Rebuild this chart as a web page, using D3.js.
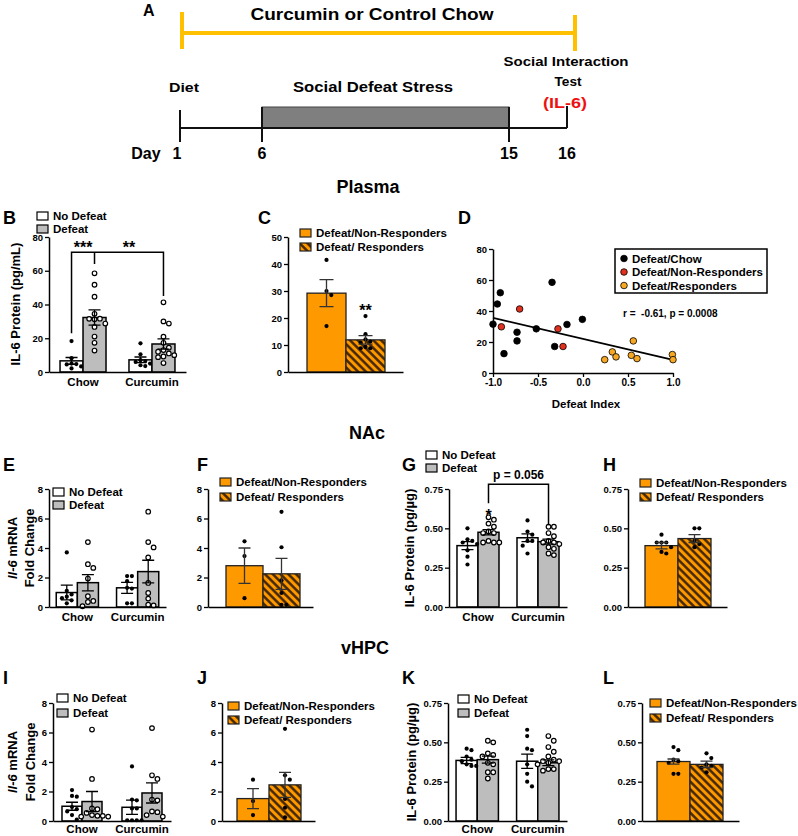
<!DOCTYPE html>
<html><head><meta charset="utf-8">
<script src="https://cdn.jsdelivr.net/npm/d3@7"></script>
<style>body{margin:0;background:#fff}</style>
</head><body><script>
const FONT = "'Liberation Sans', Arial, Helvetica, sans-serif";
const GRAY = '#bdbdbd', ORANGE = '#ff9900', YELLOW = '#ffc000';

// ---------------- DATA ----------------
const timelineDays = [1, 6, 15, 16];
const groupCats = ["Chow", "Curcumin"];
const condLabels = ["No Defeat", "Defeat"];
const respLabels = ["Defeat/Non-Responders", "Defeat/ Responders"];
const scatterLabels = ["Defeat/Chow", "Defeat/Non-Responders", "Defeat/Responders"];

// order of 4-bar panels: Chow-NoDefeat, Chow-Defeat, Curcumin-NoDefeat, Curcumin-Defeat
const B_mean = [6.6, 32.3, 7.2, 16.6];
const B_sem = [2.0, 4.5, 1.7, 3.0];
const B_pts = [[18.3, 8.2, 5.0, 4.7, 4.5, 3.3, 2.1],
  [58.5, 51.7, 44.6, 34.5, 31.6, 31.5, 31.2, 28.7, 26.7, 21.0, 17.3, 12.7],
  [17.0, 10.5, 7.0, 6.5, 6.0, 5.0, 4.0, 3.5],
  [41.3, 30.0, 28.7, 20.9, 17.3, 14.4, 13.0, 12.0, 11.0, 10.0, 9.2, 8.8, 5.3]];
const B_bracket = 71, B_legs = [23, 64, 45], B_stars = ["***", "**"];

const C_mean = [29.2, 11.9];
const C_sem = [5.0, 1.6];
const C_pts = [[41.5, 30.0, 28.5, 17.0], [20.7, 14.0, 12.1, 11.3, 10.9, 9.3, 8.8, 8.8]];

const D_chowX = [-1.0, -0.952, -0.919, -0.878, -0.733, -0.733, -0.519, -0.344, -0.315, -0.178, -0.007];
const D_chowY = [31.5, 44.5, 51.8, 12.5, 26.3, 20.7, 28.5, 58.5, 17.1, 31.3, 34.6];
const D_nrX = [-0.907, -0.704, -0.278, -0.222];
const D_nrY = [29.8, 41.3, 28.5, 17.1];
const D_rX = [0.241, 0.326, 0.367, 0.537, 0.559, 0.6, 0.993, 1.0];
const D_rY = [8.6, 13.6, 10.4, 11.4, 20.7, 9.3, 11.9, 8.6];
const D_fitX = [-1, 1], D_fitY = [35.6, 8.4];
const D_stat = "r =  -0.61, p = 0.0008";

const E_mean = [0.98, 1.65, 1.3, 2.4];
const E_sem = [0.5, 0.55, 0.37, 0.77];
const E_pts = [[3.7, 1.1, 0.85, 0.7, 0.6, 0.45, 0.25],
  [4.4, 2.9, 2.65, 1.93, 0.73, 0.41, 0.34, 0.05],
  [2.1, 2.1, 1.75, 1.3, 1.25, 0.25, 0.25],
  [6.46, 4.4, 4.04, 3.36, 1.63, 0.95, 0.57, 0.16, 0.11]];

const F_mean = [2.8, 2.25];
const F_sem = [1.2, 1.05];
const F_pts = [[4.45, 3.45, 0.6], [6.45, 4.05, 1.8, 0.95, 0.15, 0.15]];

const G_mean = [0.39, 0.475, 0.44, 0.415];
const G_sem = [0.025, 0.017, 0.025, 0.016];
const G_pts = [[0.50, 0.43, 0.42, 0.41, 0.40, 0.36, 0.32, 0.27],
  [0.57, 0.555, 0.53, 0.51, 0.48, 0.47, 0.47, 0.42, 0.41, 0.41, 0.41],
  [0.55, 0.48, 0.46, 0.42, 0.42, 0.39, 0.34],
  [0.51, 0.51, 0.47, 0.45, 0.42, 0.41, 0.41, 0.40, 0.38, 0.37, 0.34, 0.33]];
const G_bracket = 0.78, G_legs = [0.66, 0.52], G_pLabel = "p = 0.056", G_star = 0.60;

const H_mean = [0.39, 0.435];
const H_sem = [0.02, 0.025];
const H_pts = [[0.46, 0.41, 0.41, 0.41, 0.38, 0.35, 0.34], [0.50, 0.50, 0.42, 0.40, 0.38]];

const I_mean = [1.0, 1.32, 0.93, 1.9];
const I_sem = [0.27, 0.68, 0.48, 0.68];
const I_pts = [[2.1, 1.7, 1.65, 0.95, 0.8, 0.65, 0.4, 0.1],
  [6.2, 2.85, 0.85, 0.8, 0.55, 0.4, 0.35, 0.35, 0.3, 0.3],
  [3.7, 1.45, 1.4, 0.85, 0.85, 0.05, 0.05, 0.05, 0.05],
  [6.3, 3.1, 2.85, 1.45, 1.4, 0.65, 0.6, 0.4, 0.3]];

const J_mean = [1.52, 2.45];
const J_sem = [0.68, 0.85];
const J_pts = [[2.8, 1.35, 0.4], [6.25, 3.1, 2.8, 1.5, 0.9, 0.25]];

const K_mean = [0.385, 0.39, 0.38, 0.37];
const K_sem = [0.02, 0.022, 0.045, 0.018];
const K_pts = [[0.46, 0.45, 0.41, 0.39, 0.38, 0.36, 0.35, 0.35],
  [0.51, 0.50, 0.43, 0.42, 0.41, 0.37, 0.36, 0.31, 0.31, 0.27],
  [0.58, 0.54, 0.46, 0.45, 0.36, 0.30, 0.25, 0.22],
  [0.54, 0.51, 0.47, 0.44, 0.41, 0.39, 0.38, 0.38, 0.37, 0.36, 0.33, 0.33, 0.32]];

const L_mean = [0.378, 0.36];
const L_sem = [0.016, 0.02];
const L_pts = [[0.47, 0.45, 0.39, 0.38, 0.37, 0.30, 0.30], [0.43, 0.40, 0.36, 0.35, 0.34, 0.31]];

// ---------------- DRAWING ----------------
const svg = d3.select('body').append('svg').attr('width', 798).attr('height', 836)
  .attr('font-family', FONT);
const defs = svg.append('defs');
const pat = defs.append('pattern').attr('id', 'hatch').attr('patternUnits', 'userSpaceOnUse')
  .attr('width', 5.5).attr('height', 5.5).attr('patternTransform', 'rotate(-45)');
pat.append('rect').attr('width', 5.5).attr('height', 5.5).attr('fill', ORANGE);
pat.append('line').attr('x1', 1.4).attr('x2', 1.4).attr('y1', -1).attr('y2', 7)
  .attr('stroke', '#3d2300').attr('stroke-width', 2.4);

function txt(g, x, y, s, size, o = {}) {
  const t = g.append('text').attr('x', x).attr('y', y).text(s)
    .attr('font-family', FONT).attr('font-size', size)
    .attr('font-weight', o.weight || 'bold').attr('text-anchor', o.anchor || 'start')
    .attr('fill', o.fill || '#000');
  if (o.len) t.attr('textLength', o.len).attr('lengthAdjust', 'spacingAndGlyphs');
  if (o.pre) t.style('white-space', 'pre');
  return t;
}
function styleAxis(sel, fs) {
  sel.select('.domain').attr('stroke', '#000').attr('stroke-width', 1.5);
  sel.selectAll('.tick line').attr('stroke', '#000').attr('stroke-width', 1.3);
  sel.selectAll('.tick text').attr('font-family', FONT).attr('font-weight', 'bold')
    .attr('font-size', fs).attr('fill', '#000');
}
function yAxis(g, y, x0, ticks, fmt) {
  g.append('g').attr('transform', `translate(${x0},0)`)
    .call(d3.axisLeft(y).tickValues(ticks).tickFormat(fmt).tickSize(4).tickSizeOuter(0).tickPadding(2))
    .call(s => styleAxis(s, 9.5));
}
function swarm(vals, y, cx, r) {
  const step = 2 * r + 0.4, placed = [];
  vals.forEach(v => {
    const py = y(v);
    for (let k = 0; k < 40; k++) {
      const off = k === 0 ? 0 : (k % 2 ? 1 : -1) * Math.ceil(k / 2) * step;
      const px = cx + off;
      if (placed.every(p => Math.hypot(p.x - px, p.y - py) >= step - 0.01)) { placed.push({ x: px, y: py }); break; }
    }
  });
  return placed;
}
function dots(g, cx, y, pts, isOpen) {
  pts.forEach((arr, i) => {
    const open = isOpen(i), r = open ? 2.3 : 2.1;
    g.selectAll(null).data(swarm(arr, y, cx(i), open ? 2.5 : 2.2)).join('circle')
      .attr('cx', d => d.x).attr('cy', d => d.y).attr('r', r)
      .attr('fill', open ? '#fff' : '#000').attr('stroke', '#000').attr('stroke-width', open ? 1.2 : 0);
  });
}
function errBars(g, cx, y, mean, sem, capW, color) {
  g.selectAll(null).data(mean).join('path')
    .attr('d', (m, i) => {
      const x = cx(i), t = y(m + sem[i]), b = y(Math.max(0, m - sem[i]));
      return `M${x},${t}V${b}M${x - capW / 2},${t}H${x + capW / 2}M${x - capW / 2},${b}H${x + capW / 2}`;
    })
    .attr('stroke', color).attr('stroke-width', 1.3).attr('fill', 'none');
}
function fourBar(c, mean, sem, pts) {
  const g = svg.append('g');
  const y = d3.scaleLinear().domain([0, c.max]).range([c.yBot, c.yTop]);
  const x = d3.scaleBand().domain(groupCats).range([c.x0, c.x1]).paddingInner(c.pi).paddingOuter(c.po);
  const bw = x.bandwidth() / 2;
  const bx = i => x(groupCats[Math.floor(i / 2)]) + (i % 2) * bw;
  const cx = i => bx(i) + bw / 2;
  g.selectAll(null).data(mean).join('rect')
    .attr('x', (d, i) => bx(i)).attr('width', bw).attr('y', d => y(d)).attr('height', d => c.yBot - y(d))
    .attr('fill', (d, i) => i % 2 ? GRAY : '#fff').attr('stroke', '#000').attr('stroke-width', 1.5);
  dots(g, cx, y, pts, i => i % 2 === 1);
  errBars(g, cx, y, mean, sem, 12, '#000');
  yAxis(g, y, c.x0, c.ticks, c.fmt);
  g.append('g').attr('transform', `translate(0,${c.yBot})`)
    .call(d3.axisBottom(x).tickSize(0).tickSizeOuter(0).tickPadding(c.lp))
    .call(s => styleAxis(s, 11.5));
  return { g, y, cx };
}
function twoBar(c, mean, sem, pts) {
  const g = svg.append('g');
  const y = d3.scaleLinear().domain([0, c.max]).range([c.yBot, c.yTop]);
  const x = d3.scaleBand().domain(respLabels).range([c.b0, c.b1]);
  const cx = i => x(respLabels[i]) + x.bandwidth() / 2;
  g.selectAll(null).data(mean).join('rect')
    .attr('x', (d, i) => x(respLabels[i])).attr('width', x.bandwidth())
    .attr('y', d => y(d)).attr('height', d => c.yBot - y(d))
    .attr('fill', (d, i) => i ? 'url(#hatch)' : ORANGE).attr('stroke', '#222').attr('stroke-width', 1.3);
  dots(g, cx, y, pts, () => false);
  errBars(g, cx, y, mean, sem, c.cap, '#333');
  yAxis(g, y, c.x0, c.ticks, c.fmt);
  g.append('g').attr('transform', `translate(0,${c.yBot})`)
    .call(d3.axisBottom(d3.scaleLinear().range([c.x0, c.x1])).tickValues([]).tickSizeOuter(0))
    .call(s => styleAxis(s, 10));
  return { g, y, cx };
}
function condLegend(x, rows) {
  condLabels.forEach((t, i) => {
    svg.append('rect').attr('x', x).attr('y', rows[i] - 4).attr('width', 11).attr('height', 8)
      .attr('fill', i ? GRAY : '#fff').attr('stroke', '#000').attr('stroke-width', 1.2);
    txt(svg, x + 16, rows[i] + 4, t, 11.5);
  });
}
function respLegend(x, rows) {
  respLabels.forEach((t, i) => {
    svg.append('rect').attr('x', x).attr('y', rows[i] - 4).attr('width', 11).attr('height', 8)
      .attr('fill', i ? 'url(#hatch)' : ORANGE).attr('stroke', '#222').attr('stroke-width', 1.2);
    txt(svg, x + 16, rows[i] + 4, t, 11.5);
  });
}
function yLabel(x, y, lines) {
  const t = svg.append('text').attr('transform', `translate(${x},${y}) rotate(-90)`)
    .attr('text-anchor', 'middle').attr('font-family', FONT).attr('font-weight', 'bold').attr('font-size', 13);
  lines.forEach(([s, it]) => t.append('tspan').text(s).attr('font-style', it ? 'italic' : 'normal'));
}
const fmtInt = d3.format('d'), fmt2 = d3.format('.2f');

// ---------- Panel A ----------
const gA = svg.append('g');
const dayX = d3.scaleLinear().domain(timelineDays).range([180, 262, 509, 567]);
txt(gA, 143, 16, 'A', 16);
txt(gA, 372, 20, 'Curcumin or Control Chow', 17, { anchor: 'middle', len: 243 });
gA.append('path').attr('d', `M${dayX(1) + 2},33H${dayX(16) + 8}M${dayX(1) + 2},12V49M${dayX(16) + 8},15V51`)
  .attr('stroke', YELLOW).attr('stroke-width', 4).attr('fill', 'none');
txt(gA, 566, 66, 'Social Interaction', 13, { anchor: 'middle', len: 125 });
txt(gA, 568, 86, 'Test', 13, { anchor: 'middle', len: 27 });
txt(gA, 565, 108, '(IL-6)', 14, { anchor: 'middle', len: 44, fill: '#ee1111' });
txt(gA, 184, 92, 'Diet', 13.5, { anchor: 'middle', len: 30 });
txt(gA, 373, 92, 'Social Defeat Stress', 14, { anchor: 'middle', len: 160 });
gA.append('rect').attr('x', dayX(6)).attr('y', 107).attr('width', dayX(15) - dayX(6)).attr('height', 21)
  .attr('fill', '#7f7f7f').attr('stroke', '#444').attr('stroke-width', 1);
gA.append('line').attr('x1', dayX(1)).attr('x2', dayX(16)).attr('y1', 128).attr('y2', 128)
  .attr('stroke', '#111').attr('stroke-width', 2);
const tickTop = [110, 107, 107, 106], tickBot = [142, 142, 142, 128];
gA.selectAll(null).data(timelineDays).join('line')
  .attr('x1', d => dayX(d)).attr('x2', d => dayX(d)).attr('y1', (d, i) => tickTop[i]).attr('y2', (d, i) => tickBot[i])
  .attr('stroke', '#111').attr('stroke-width', 2);
txt(gA, 146, 159, 'Day', 16, { anchor: 'middle' });
gA.selectAll(null).data(timelineDays).join('text')
  .attr('x', (d, i) => dayX(d) - (i === 0 ? 3 : 0)).attr('y', 159).text(d => d)
  .attr('text-anchor', 'middle').attr('font-family', FONT).attr('font-weight', 'bold').attr('font-size', 16);
txt(svg, 368, 193, 'Plasma', 18, { anchor: 'middle' });
txt(svg, 367, 439, 'NAc', 18, { anchor: 'middle' });
txt(svg, 365, 654, 'vHPC', 18, { anchor: 'middle' });

// panel letters
[['B', 3, 224], ['C', 258, 224], ['D', 458, 224], ['E', 3, 471], ['F', 197, 471], ['G', 402, 471], ['H', 603, 471],
 ['I', 3, 684], ['J', 197, 684], ['K', 402, 684], ['L', 603, 684]].forEach(([s, x, y]) => txt(svg, x, y, s, 18));

// ---------- Panel B ----------
const pB = fourBar({ x0: 49, x1: 186, yTop: 237, yBot: 372, max: 80, ticks: [0, 20, 40, 60, 80], fmt: fmtInt, pi: 0.333, po: 0.16, lp: 6 },
  B_mean, B_sem, B_pts);
{
  const legX = [0, 1, 3].map(i => pB.cx(i));
  const yl = pB.y(B_bracket);
  pB.g.append('path').attr('d', `M${legX[0]},${pB.y(B_legs[0])}V${yl}H${legX[2]}V${pB.y(B_legs[2])}M${legX[1]},${yl}V${pB.y(B_legs[1])}`)
    .attr('stroke', '#000').attr('stroke-width', 1.5).attr('fill', 'none');
  txt(pB.g, (legX[0] + legX[1]) / 2, yl + 1, B_stars[0], 16, { anchor: 'middle' });
  txt(pB.g, (legX[1] + legX[2]) / 2, yl + 1, B_stars[1], 16, { anchor: 'middle' });
}
condLegend(37, [216, 229]);
yLabel(20, 304, [['IL-6 Protein (pg/mL)', false]]);

// ---------- Panel C ----------
const pC = twoBar({ x0: 288, x1: 403, b0: 307, b1: 385, yTop: 237, yBot: 372, max: 50, ticks: [0, 10, 20, 30, 40, 50], fmt: fmtInt, cap: 14 },
  C_mean, C_sem, C_pts);
txt(pC.g, pC.cx(1), pC.y(24) + 9, '**', 16, { anchor: 'middle' });
respLegend(300, [233, 247]);

// ---------- Panel D ----------
{
  const g = svg.append('g');
  const x = d3.scaleLinear().domain([-1, 1]).range([493, 673]);
  const y = d3.scaleLinear().domain([0, 80]).range([373, 249]);
  yAxis(g, y, 493, [0, 20, 40, 60, 80], fmtInt);
  g.append('g').attr('transform', 'translate(0,373)')
    .call(d3.axisBottom(x).tickValues([-1, -0.5, 0, 0.5, 1]).tickFormat(v => v.toFixed(1)).tickSize(4).tickSizeOuter(0).tickPadding(2))
    .call(s => styleAxis(s, 10));
  g.append('line').attr('x1', x(D_fitX[0])).attr('x2', x(D_fitX[1])).attr('y1', y(D_fitY[0])).attr('y2', y(D_fitY[1]))
    .attr('stroke', '#000').attr('stroke-width', 1.8);
  const sets = [[D_chowX, D_chowY, '#000'], [D_nrX, D_nrY, '#e0301e'], [D_rX, D_rY, '#f7a823']];
  sets.forEach(([xs, ys, col]) => {
    g.selectAll(null).data(xs).join('circle').attr('cx', d => x(d)).attr('cy', (d, i) => y(ys[i])).attr('r', 3.3)
      .attr('fill', col).attr('stroke', '#000').attr('stroke-width', 0.8);
  });
  txt(g, 586, 408, 'Defeat Index', 11.5, { anchor: 'middle' });
  g.append('rect').attr('x', 615).attr('y', 249).attr('width', 152).attr('height', 44)
    .attr('fill', '#fff').attr('stroke', '#000').attr('stroke-width', 1.5);
  const legRows = [258.5, 272, 285.5];
  scatterLabels.forEach((t, i) => {
    g.append('circle').attr('cx', 624).attr('cy', legRows[i]).attr('r', 3.3).attr('fill', sets[i][2])
      .attr('stroke', '#000').attr('stroke-width', 0.8);
    txt(g, 632, legRows[i] + 4, t, 11.5);
  });
  txt(g, 623, 317, D_stat, 10, { pre: true });
}

// ---------- Row 2 ----------
fourBar({ x0: 49, x1: 166, yTop: 489, yBot: 607, max: 8, ticks: [0, 2, 4, 6, 8], fmt: fmtInt, pi: 0.3, po: 0.12, lp: 6 },
  E_mean, E_sem, E_pts);
condLegend(53, [492, 505]);
yLabel(17, 548, [['Il-6', true], [' mRNA', false]]);
yLabel(34, 548, [['Fold Change', false]]);

twoBar({ x0: 208, x1: 313, b0: 226, b1: 300, yTop: 489, yBot: 607, max: 8, ticks: [0, 2, 4, 6, 8], fmt: fmtInt, cap: 12 },
  F_mean, F_sem, F_pts);
respLegend(220, [482, 497]);

const pG = fourBar({ x0: 449, x1: 567, yTop: 489, yBot: 607, max: 0.75, ticks: [0, 0.25, 0.5, 0.75], fmt: fmt2, pi: 0.3, po: 0.133, lp: 6 },
  G_mean, G_sem, G_pts);
{
  const a = pG.cx(1), b = pG.cx(3), yl = pG.y(G_bracket);
  pG.g.append('path').attr('d', `M${a},${pG.y(G_legs[0])}V${yl}H${b}V${pG.y(G_legs[1])}`)
    .attr('stroke', '#000').attr('stroke-width', 1.5).attr('fill', 'none');
  txt(pG.g, (a + b) / 2, yl - 5, G_pLabel, 12, { anchor: 'middle' });
  txt(pG.g, a, pG.y(G_star) + 8, '*', 16, { anchor: 'middle' });
}
condLegend(426, [455, 468]);
yLabel(414, 548, [['IL-6 Protein (pg/µg)', false]]);

twoBar({ x0: 628, x1: 727, b0: 645, b1: 711, yTop: 489, yBot: 607, max: 0.75, ticks: [0, 0.25, 0.5, 0.75], fmt: fmt2, cap: 12 },
  H_mean, H_sem, H_pts);
respLegend(640, [483, 497]);

// ---------- Row 3 ----------
fourBar({ x0: 53, x1: 171, yTop: 703, yBot: 821, max: 8, ticks: [0, 2, 4, 6, 8], fmt: fmtInt, pi: 0.333, po: 0.15, lp: 4 },
  I_mean, I_sem, I_pts);
condLegend(57, [698, 713]);
yLabel(17, 762, [['Il-6', true], [' mRNA', false]]);
yLabel(35, 762, [['Fold Change', false]]);

twoBar({ x0: 222, x1: 315, b0: 237, b1: 301, yTop: 703, yBot: 821, max: 8, ticks: [0, 2, 4, 6, 8], fmt: fmtInt, cap: 12 },
  J_mean, J_sem, J_pts);
respLegend(228, [706, 720]);

fourBar({ x0: 448, x1: 567, yTop: 703, yBot: 821, max: 0.75, ticks: [0, 0.25, 0.5, 0.75], fmt: fmt2, pi: 0.3, po: 0.133, lp: 4 },
  K_mean, K_sem, K_pts);
condLegend(458, [699, 713]);
yLabel(416, 762, [['IL-6 Protein (pg/µg)', false]]);

twoBar({ x0: 642, x1: 739, b0: 657, b1: 723, yTop: 703, yBot: 821, max: 0.75, ticks: [0, 0.25, 0.5, 0.75], fmt: fmt2, cap: 12 },
  L_mean, L_sem, L_pts);
respLegend(650, [703, 718]);
</script></body></html>
